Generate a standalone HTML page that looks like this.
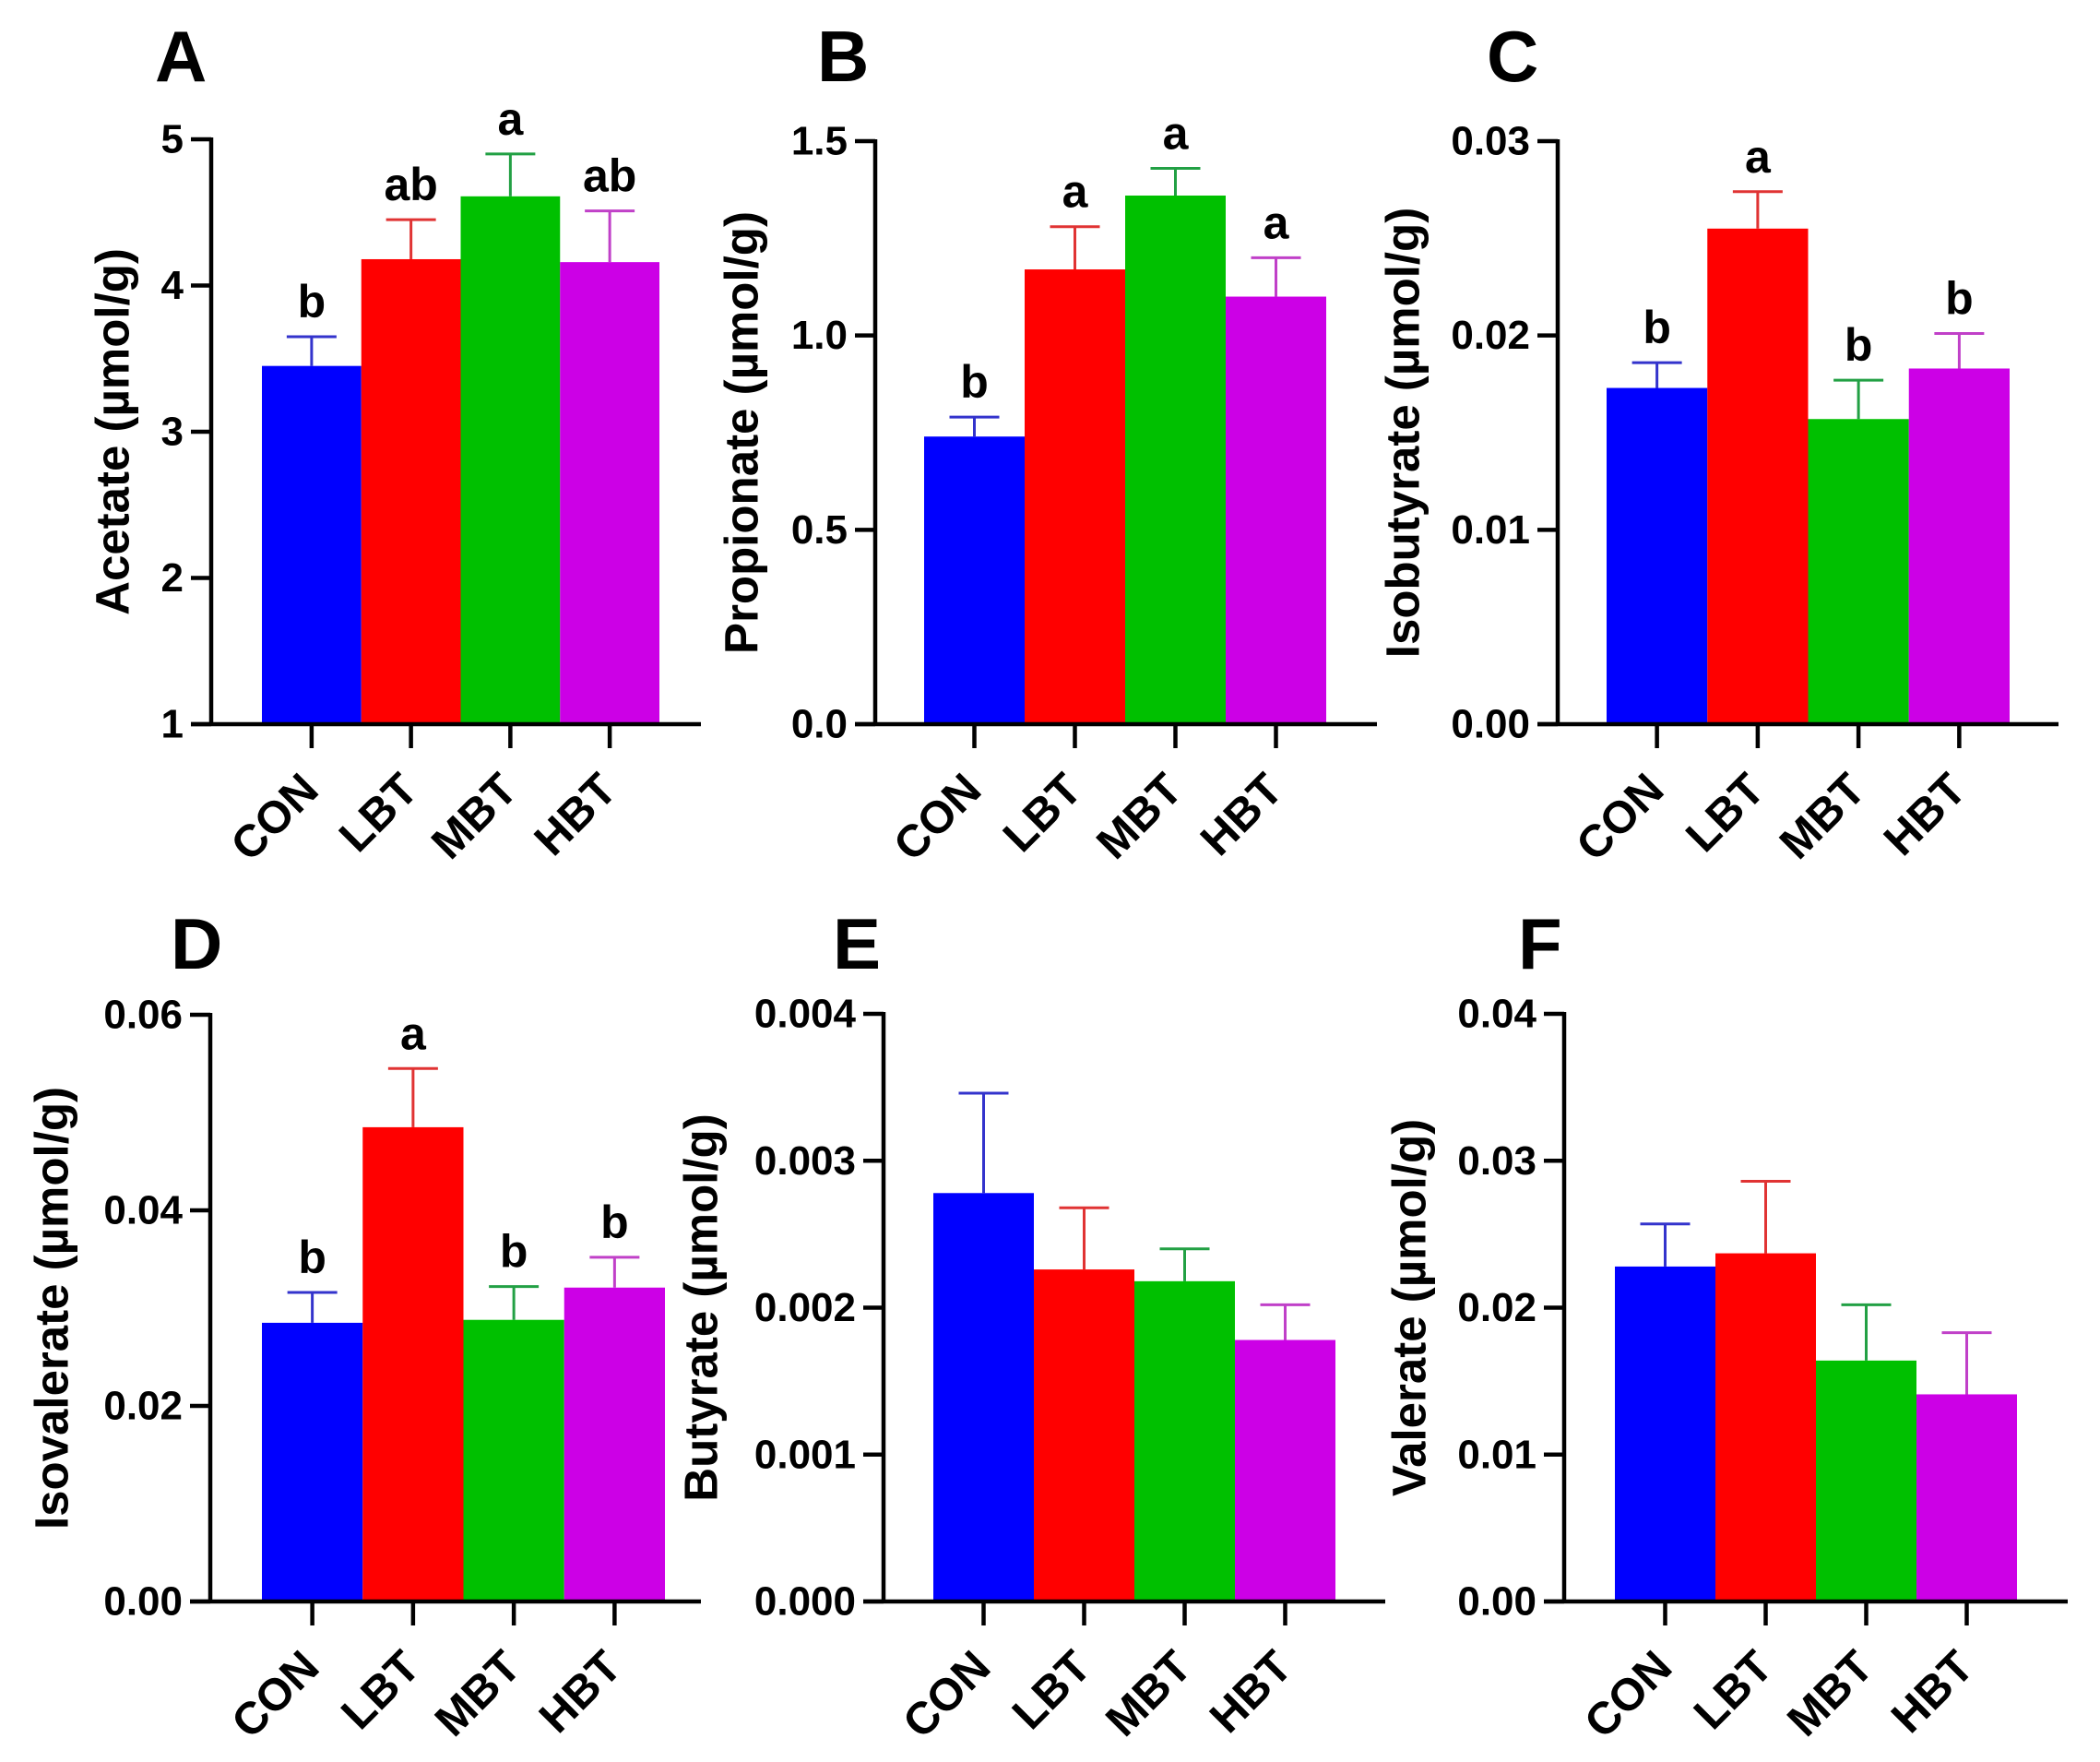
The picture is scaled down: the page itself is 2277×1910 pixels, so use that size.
<!DOCTYPE html>
<html><head><meta charset="utf-8"><style>
html,body{margin:0;padding:0;background:#fff}
svg{display:block}
text{font-family:"Liberation Sans",Arial,sans-serif;font-weight:bold;fill:#000}
</style></head>
<body>
<svg id="fig" width="2277" height="1910" viewBox="0 0 2277 1910" xmlns="http://www.w3.org/2000/svg"></svg>
<script>
const categories = ["CON","LBT","MBT","HBT"];
const barColors = ["#0000FF","#FF0000","#00C000","#CC00E6"];
const errColors = ["#3333CC","#E03333","#22A044","#C040C8"];

const acetateMeans = [3.45, 4.18, 4.61, 4.16];
const acetateErr = [3.65, 4.45, 4.90, 4.51];
const acetateLetters = ["b","ab","a","ab"];
const acetateTicks = ["1","2","3","4","5"];

const propionateMeans = [0.74, 1.17, 1.36, 1.10];
const propionateErr = [0.79, 1.28, 1.43, 1.20];
const propionateLetters = ["b","a","a","a"];
const propionateTicks = ["0.0","0.5","1.0","1.5"];

const isobutyrateMeans = [0.0173, 0.0255, 0.0157, 0.0183];
const isobutyrateErr = [0.0186, 0.0274, 0.0177, 0.0201];
const isobutyrateLetters = ["b","a","b","b"];
const isobutyrateTicks = ["0.00","0.01","0.02","0.03"];

const isovalerateMeans = [0.0285, 0.0485, 0.0288, 0.0321];
const isovalerateErr = [0.0316, 0.0545, 0.0322, 0.0352];
const isovalerateLetters = ["b","a","b","b"];
const isovalerateTicks = ["0.00","0.02","0.04","0.06"];

const butyrateMeans = [0.00278, 0.00226, 0.00218, 0.00178];
const butyrateErr = [0.00346, 0.00268, 0.00240, 0.00202];
const butyrateLetters = ["","","",""];
const butyrateTicks = ["0.000","0.001","0.002","0.003","0.004"];

const valerateMeans = [0.0228, 0.0237, 0.0164, 0.0141];
const valerateErr = [0.0257, 0.0286, 0.0202, 0.0183];
const valerateLetters = ["","","",""];
const valerateTicks = ["0.00","0.01","0.02","0.03","0.04"];

const NS = "http://www.w3.org/2000/svg";
const svg = document.getElementById("fig");
function mk(tag, attrs, parent){
  const e = document.createElementNS(NS, tag);
  for (const k in attrs) e.setAttribute(k, attrs[k]);
  (parent||svg).appendChild(e);
  return e;
}

function panel(cfg){
  const g = mk("g", {});
  
  
  const tv = cfg.ticks.map(Number);
  const ymin = tv[0], ymax = tv[tv.length-1];
  const ys = v => cfg.y0 - (v - ymin) / (ymax - ymin) * (cfg.y0 - cfg.y1);
  const bw = (cfg.bx1 - cfg.bx0) / categories.length;
  const xc = i => cfg.bx0 + bw * (i + 0.5);

  const lt = mk("text", {x: cfg.lx, y: cfg.ly, "font-size": 78}, g);
  lt.textContent = cfg.letter;
  
  

  categories.forEach((c, i) => {
    const top = ys(cfg.means[i]);
    const r = mk("rect", {x: cfg.bx0 + bw*i, y: top, width: bw, height: cfg.y0 - top, fill: barColors[i]}, g);
    
    
    const et = ys(cfg.err[i]);
    const eb = mk("g", {stroke: errColors[i], "stroke-width": 3}, g);
    
    
    mk("line", {x1: xc(i), x2: xc(i), y1: top, y2: et}, eb);
    mk("line", {x1: xc(i)-27, x2: xc(i)+27, y1: et, y2: et}, eb);
    if (cfg.letters[i]) {
      const t = mk("text", {x: xc(i), y: et - 21, "font-size": 50, "text-anchor": "middle"}, g);
      t.textContent = cfg.letters[i];
      
      
    }
  });

  const ax = mk("g", {stroke: "#000", "stroke-width": 4.5, fill: "none"}, g);
  
  
  mk("line", {x1: cfg.ax, x2: cfg.ax, y1: cfg.y1 - 2, y2: cfg.y0 + 2}, ax);
  mk("line", {x1: cfg.ax - 22, x2: cfg.xend, y1: cfg.y0, y2: cfg.y0}, ax);

  cfg.ticks.forEach(t => {
    const y = ys(Number(t));
    mk("line", {x1: cfg.ax - 22, x2: cfg.ax, y1: y, y2: y, stroke: "#000", "stroke-width": 4.5}, g);
    const tl = mk("text", {x: cfg.ax - 30, y: y, "font-size": 44, "text-anchor": "end", "dominant-baseline": "central"}, g);
    tl.textContent = t;
    
    
  });

  categories.forEach((c, i) => {
    mk("line", {x1: xc(i), x2: xc(i), y1: cfg.y0, y2: cfg.y0 + 26, stroke: "#000", "stroke-width": 4.5}, g);
    const px = xc(i) + 10, py = cfg.y0 + 74;
    const cl = mk("text", {x: px, y: py, "font-size": 49, "text-anchor": "end", transform: `rotate(-45 ${px} ${py})`}, g);
    cl.textContent = c;
    
    
  });

  const my = (cfg.y0 + cfg.y1) / 2;
  const yt = mk("text", {x: cfg.tx, y: my, "font-size": 51, "text-anchor": "middle", "dominant-baseline": "central", transform: `rotate(-90 ${cfg.tx} ${my})`}, g);
  yt.textContent = cfg.title;
  
  
}

panel({name:"acetate", letter:"A", lx:168, ly:88, ax:229, xend:760, bx0:284, bx1:715, y0:785, y1:151,
  ticks:acetateTicks, means:acetateMeans, err:acetateErr, letters:acetateLetters, tx:122, title:"Acetate (µmol/g)"});
panel({name:"propionate", letter:"B", lx:886, ly:88, ax:949, xend:1493, bx0:1002, bx1:1438, y0:785, y1:153,
  ticks:propionateTicks, means:propionateMeans, err:propionateErr, letters:propionateLetters, tx:804, title:"Propionate (µmol/g)"});
panel({name:"isobutyrate", letter:"C", lx:1612, ly:88, ax:1689, xend:2232, bx0:1742, bx1:2179, y0:785, y1:153,
  ticks:isobutyrateTicks, means:isobutyrateMeans, err:isobutyrateErr, letters:isobutyrateLetters, tx:1521, title:"Isobutyrate (µmol/g)"});
panel({name:"isovalerate", letter:"D", lx:185, ly:1050, ax:228, xend:760, bx0:284, bx1:721, y0:1736, y1:1100,
  ticks:isovalerateTicks, means:isovalerateMeans, err:isovalerateErr, letters:isovalerateLetters, tx:56, title:"Isovalerate (µmol/g)"});
panel({name:"butyrate", letter:"E", lx:903, ly:1050, ax:958, xend:1502, bx0:1012, bx1:1448, y0:1736, y1:1099,
  ticks:butyrateTicks, means:butyrateMeans, err:butyrateErr, letters:butyrateLetters, tx:760, title:"Butyrate (µmol/g)"});
panel({name:"valerate", letter:"F", lx:1646, ly:1050, ax:1696, xend:2242, bx0:1751, bx1:2187, y0:1736, y1:1099,
  ticks:valerateTicks, means:valerateMeans, err:valerateErr, letters:valerateLetters, tx:1528, title:"Valerate (µmol/g)"});
</script>
</body></html>
